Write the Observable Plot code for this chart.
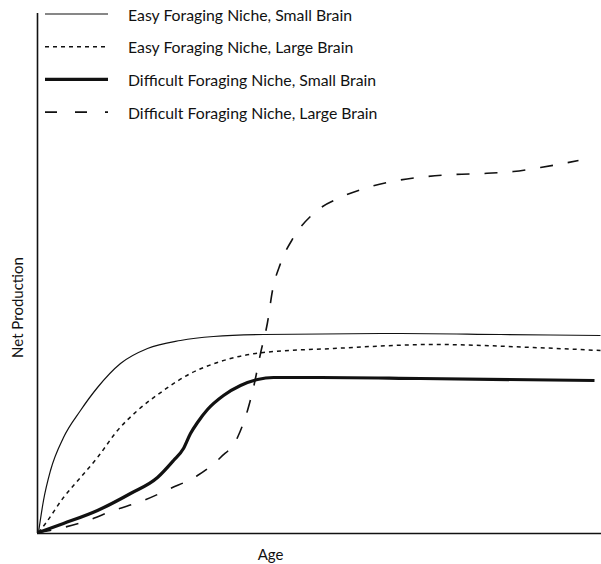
<!DOCTYPE html>
<html>
<head>
<meta charset="utf-8">
<script src="https://cdn.jsdelivr.net/npm/d3@7"></script>
<script src="https://cdn.jsdelivr.net/npm/@observablehq/plot@0.6"></script>
<style>
  html, body { margin: 0; padding: 0; background: #fff; }
  #chart { width: 601px; height: 564px; }
</style>
</head>
<body>
<div id="chart"></div>
<script>
// Series names (legend order)
const seriesNames = [
  "Easy Foraging Niche, Small Brain",
  "Easy Foraging Niche, Large Brain",
  "Difficult Foraging Niche, Small Brain",
  "Difficult Foraging Niche, Large Brain"
];

// Values (age, net production), arbitrary units
const easySmallAge  = [1, 6, 13, 26, 43, 60, 83, 110, 143, 176, 226, 363, 463, 563];
const easySmallProd = [1, 33, 63, 96, 123, 146, 170, 185, 193, 197, 199, 200, 199, 198];

const easyLargeAge  = [1, 8, 26, 43, 60, 80, 100, 126, 153, 180, 206, 226, 296, 396, 496, 563];
const easyLargeProd = [1, 10, 36, 56, 76, 103, 123, 143, 160, 171, 178, 181, 185, 189, 186, 183];

const diffSmallAge  = [1, 26, 60, 93, 120, 136, 146, 153, 160, 170, 186, 203, 220, 236, 283, 383, 557];
const diffSmallProd = [1, 10, 23, 40, 56, 73, 85, 100, 111, 124, 138, 148, 154, 156, 156, 155, 153];

const diffLargeAge  = [1, 26, 50, 76, 106, 133, 160, 183, 200, 210, 216, 223, 230, 235, 243, 256, 276, 303, 330, 360, 390, 416, 446, 476, 503, 541];
const diffLargeProd = [1, 6, 13, 23, 33, 45, 58, 76, 96, 123, 146, 180, 211, 243, 270, 296, 320, 336, 346, 353, 357, 359, 360, 362, 366, 373];

const xDomain = [0, 564];
const yDomain = [0, 520];

const styles = [
  {strokeWidth: 1.2, dash: null},
  {strokeWidth: 1.5, dash: "4,4"},
  {strokeWidth: 3.2, dash: null},
  {strokeWidth: 1.6, dash: "13,15"}
];

const toRows = (ages, prods, name) => ages.map((a, i) => ({age: a, prod: prods[i], series: name}));
const seriesData = [
  toRows(easySmallAge, easySmallProd, seriesNames[0]),
  toRows(easyLargeAge, easyLargeProd, seriesNames[1]),
  toRows(diffSmallAge, diffSmallProd, seriesNames[2]),
  toRows(diffLargeAge, diffLargeProd, seriesNames[3])
];

const lineMarks = seriesData.map((rows, i) => Plot.line(rows, {
  x: "age", y: "prod", curve: "monotone-x",
  stroke: "#111", strokeWidth: styles[i].strokeWidth,
  strokeDasharray: styles[i].dash, strokeLinecap: "butt"
}));

const FONT = "Lato, 'Open Sans', sans-serif";

const chart = Plot.plot({
  width: 601,
  height: 564,
  marginLeft: 37,
  marginRight: 0,
  marginTop: 13,
  marginBottom: 31,
  style: {fontFamily: FONT, background: "#fff"},
  x: {domain: xDomain, axis: null},
  y: {domain: yDomain, axis: null},
  marks: [
    Plot.ruleY([0], {stroke: "#111", strokeWidth: 1.6}),
    Plot.ruleX([0], {stroke: "#111", strokeWidth: 1.6}),
    ...lineMarks,
    Plot.text(["Age"], {frameAnchor: "bottom", textAnchor: "middle", dx: -49, dy: 26, fontSize: 15, fill: "#111"}),
    Plot.text(["Net Production"], {frameAnchor: "left", textAnchor: "middle", rotate: -90, dx: -19, dy: 34, fontSize: 15, fill: "#111"})
  ]
});

// Legend inside the plot frame
const svg = d3.select(chart);
const legend = svg.append("g").attr("text-anchor", "start");
seriesNames.forEach((name, i) => {
  const y = 14 + i * 32.7;
  legend.append("line")
    .attr("x1", 45).attr("x2", 108).attr("y1", y).attr("y2", y)
    .attr("stroke", "#111")
    .attr("stroke-width", styles[i].strokeWidth)
    .attr("stroke-dasharray", i === 3 ? "12,18" : styles[i].dash);
  legend.append("text")
    .attr("x", 128).attr("y", y + 1).attr("dy", "0.35em")
    .attr("text-anchor", "start")
    .attr("font-family", FONT)
    .attr("font-size", 15.8).attr("fill", "#111")
    .text(name);
});

document.getElementById("chart").appendChild(chart);
</script>
</body>
</html>
